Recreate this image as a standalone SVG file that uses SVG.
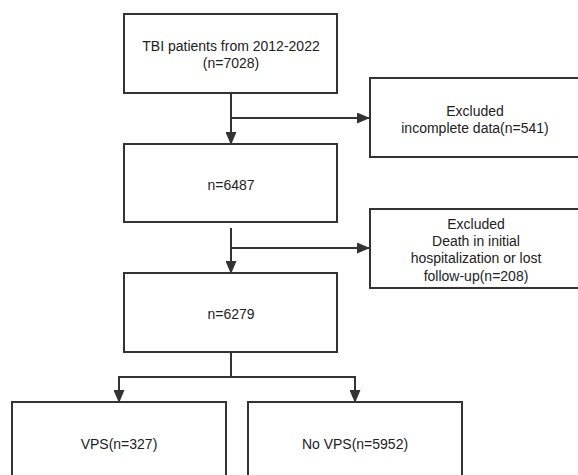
<svg xmlns="http://www.w3.org/2000/svg" width="578" height="475" viewBox="0 0 578 475">
<defs>
<style>
.box{fill:#fff;stroke:#333;stroke-width:2}
.ln{fill:none;stroke:#333;stroke-width:2}
text{font-family:"Liberation Sans","DejaVu Sans",sans-serif;font-size:14px;fill:#222;text-anchor:middle}
</style>
<marker id="ah" markerWidth="13" markerHeight="11" refX="13" refY="5.5" orient="auto" markerUnits="userSpaceOnUse">
<path d="M0,0 L13,5.5 L0,11 Z" fill="#333"/>
</marker>
</defs>
<rect width="578" height="475" fill="#fff"/>
<g id="connectors">
<line class="ln" x1="231" y1="93" x2="231" y2="145" marker-end="url(#ah)"/>
<line class="ln" x1="231" y1="118" x2="370" y2="118" marker-end="url(#ah)"/>
<line class="ln" x1="231" y1="228" x2="231" y2="274" marker-end="url(#ah)"/>
<line class="ln" x1="231" y1="248" x2="370" y2="248" marker-end="url(#ah)"/>
<line class="ln" x1="231" y1="352" x2="231" y2="377"/>
<polyline class="ln" points="119,390 119,377 355,377 355,390"/>
<line class="ln" x1="119" y1="378" x2="119" y2="403" marker-end="url(#ah)"/>
<line class="ln" x1="355" y1="378" x2="355" y2="403" marker-end="url(#ah)"/>
</g>
<g id="n1">
<rect class="box" x="124" y="14" width="213" height="79"/>
<text x="231" y="51">TBI patients from 2012-2022</text>
<text x="231" y="68">(n=7028)</text>
</g>
<g id="ex1">
<rect class="box" x="370" y="78" width="212" height="79"/>
<text x="475" y="116">Excluded</text>
<text x="475" y="133">incomplete data(n=541)</text>
</g>
<g id="n2">
<rect class="box" x="124" y="144" width="213" height="78"/>
<text x="231" y="190">n=6487</text>
</g>
<g id="ex2">
<rect class="box" x="370" y="209" width="212" height="79"/>
<text x="476" y="229">Excluded</text>
<text x="476" y="246">Death in initial</text>
<text x="476" y="263">hospitalization or lost</text>
<text x="476" y="281">follow-up(n=208)</text>
</g>
<g id="n3">
<rect class="box" x="124" y="273" width="213" height="79"/>
<text x="231" y="319">n=6279</text>
</g>
<g id="vps">
<rect class="box" x="12" y="402" width="214" height="80"/>
<text x="119" y="449">VPS(n=327)</text>
</g>
<g id="novps">
<rect class="box" x="248" y="402" width="214" height="80"/>
<text x="355" y="449">No VPS(n=5952)</text>
</g>
</svg>
